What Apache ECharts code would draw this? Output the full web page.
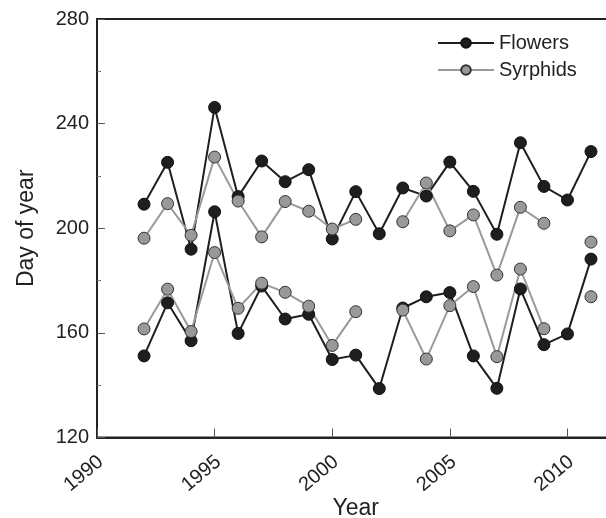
<!DOCTYPE html>
<html><head><meta charset="utf-8">
<script src="https://cdn.jsdelivr.net/npm/echarts@6/dist/echarts.min.js"></script>
<style>html,body{margin:0;padding:0;background:#fff}#c{width:606px;height:518px}</style>
</head><body><div id="c"></div>
<script>
const years = [1992,1993,1994,1995,1996,1997,1998,1999,2000,2001,2002,2003,2004,2005,2006,2007,2008,2009,2010,2011];
const flowersUpper = [209.2,225.2,192,246.2,212.1,225.7,217.8,222.4,195.9,214,197.9,215.4,212.3,225.3,214.1,197.7,232.7,216,210.8,229.3];
const flowersLower = [151.2,171.5,157,206.3,159.8,177.9,165.3,167.1,149.8,151.5,138.7,169.5,173.8,175.4,151.2,138.8,176.8,155.5,159.6,188.2];
const syrphidsUpper = [196.2,209.4,197.3,227.2,210.4,196.7,210.2,206.5,199.7,203.4,null,202.5,217.3,199,205.1,182.1,208,201.9,null,194.7];
const syrphidsLower = [161.5,176.7,160.5,190.7,169.4,179,175.5,170.2,155.2,168.1,null,168.7,150,170.4,177.7,150.9,184.4,161.6,null,173.8];
const xTickLabels = [1990,1995,2000,2005,2010];
const yTickLabels = [120,160,200,240,280];

const FONT = 'Liberation Sans, Arial, sans-serif';
function pairs(arr){ return years.map((y,i)=>[y, arr[i]==null ? '-' : arr[i]]); }
const flowerStyle = {
  type:'line', name:'Flowers', symbol:'circle', symbolSize:12, connectNulls:false,
  lineStyle:{color:'#1e1e1e', width:2},
  itemStyle:{color:'#1e1e1e', borderColor:'#111', borderWidth:1},
  emphasis:{disabled:true}, animation:false
};
const syrStyle = {
  type:'line', name:'Syrphids', symbol:'circle', symbolSize:12, connectNulls:false,
  lineStyle:{color:'#9a9a9a', width:2},
  itemStyle:{color:'#999999', borderColor:'#333', borderWidth:1},
  emphasis:{disabled:true}, animation:false
};
const chart = echarts.init(document.getElementById('c'), null, {renderer:'canvas'});
chart.setOption({
  backgroundColor:'#fff',
  animation:false,
  grid:{left:97, top:19, bottom:80.5, right:-8.5, outerBoundsMode:'none', containLabel:false,
    show:true, borderColor:'#222', borderWidth:2, backgroundColor:'transparent'},
  legend:{
    data:['Flowers','Syrphids'], orient:'vertical', left:437, top:33, padding:0,
    itemWidth:56, itemHeight:12, itemGap:7,
    textStyle:{fontFamily:FONT, fontSize:20, color:'#222'}
  },
  xAxis:{
    type:'value', min:1990, max:2012, interval:5,
    name:'Year', nameLocation:'middle', nameGap:60, nameMoveOverlap:false,
    nameTextStyle:{fontFamily:FONT, fontSize:23, color:'#222'},
    axisLine:{show:true, lineStyle:{color:'#222', width:2}},
    axisTick:{show:true, inside:true, length:9, lineStyle:{color:'#555', width:1}},
    axisLabel:{rotate:40, fontFamily:FONT, fontSize:20, color:'#222', margin:25, padding:[0,-5,0,0],
      formatter:v=> xTickLabels.includes(v) ? String(v) : ''},
    splitLine:{show:false}
  },
  yAxis:{
    type:'value', min:120, max:280, interval:40,
    name:'Day of year', nameLocation:'middle', nameGap:59, nameMoveOverlap:false,
    nameTextStyle:{fontFamily:FONT, fontSize:23, color:'#222'},
    axisLine:{show:true, lineStyle:{color:'#222', width:2}},
    axisTick:{show:true, inside:true, length:8, lineStyle:{color:'#555', width:1}},
    minorTick:{show:true, splitNumber:2, length:4, lineStyle:{color:'#777', width:1}},
    axisLabel:{fontFamily:FONT, fontSize:20, color:'#222', margin:8,
      formatter:v=> yTickLabels.includes(v) ? String(v) : ''},
    splitLine:{show:false}
  },
  series:[
    Object.assign({}, flowerStyle, {data:pairs(flowersUpper)}),
    Object.assign({}, flowerStyle, {data:pairs(flowersLower)}),
    Object.assign({}, syrStyle, {data:pairs(syrphidsUpper)}),
    Object.assign({}, syrStyle, {data:pairs(syrphidsLower)})
  ]
});
</script>
</body></html>
